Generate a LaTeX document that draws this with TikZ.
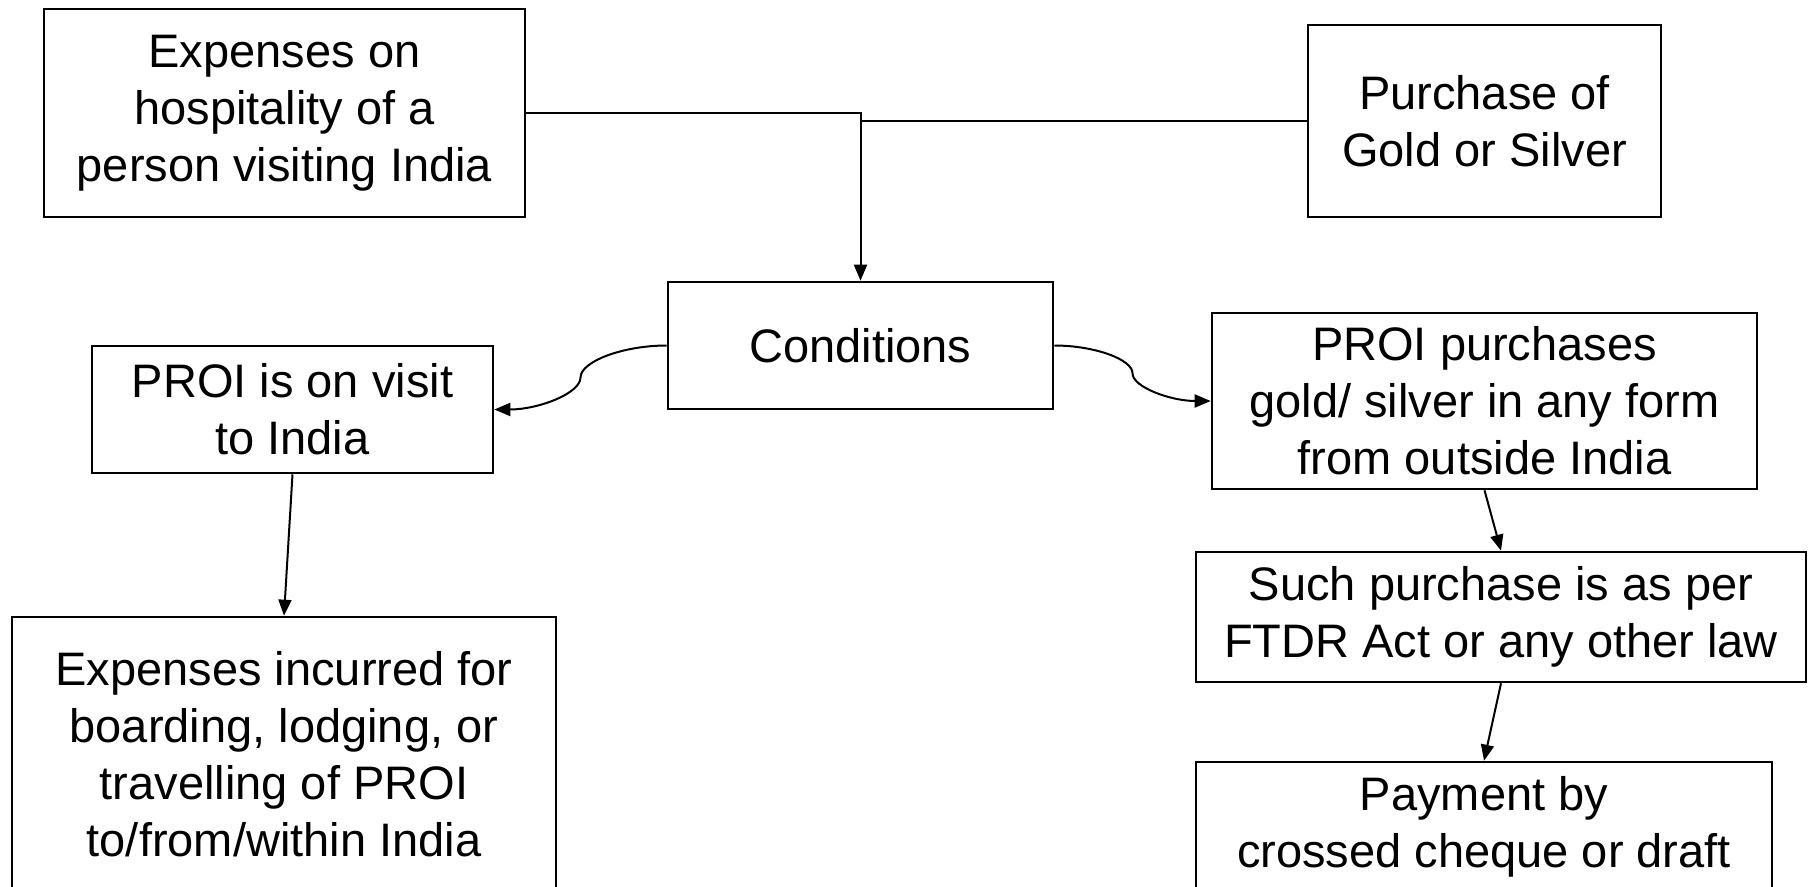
\documentclass[tikz,border=0pt]{standalone}
\usepackage{fontspec}
\setmainfont{Liberation Sans}
\usetikzlibrary{arrows.meta,calc}
\begin{document}
\begin{tikzpicture}[x=1pt,y=-1pt,
  box/.style={draw, line width=2.6pt, inner sep=0pt, align=center,
    font=\fontsize{47}{57}\selectfont},
  conn/.style={line width=2pt},
  arr/.style={conn, -{Triangle[length=16pt,width=13pt]}}]
\useasboundingbox (0,0) rectangle (1809,886);
\clip (0,0) rectangle (1809,886);

\node[box, minimum width=481pt, minimum height=208pt] (hosp) at (284.5,113)
  {Expenses on\\hospitality of a\\person visiting India};
\node[box, minimum width=353pt, minimum height=192pt] (gold) at (1484.5,121)
  {Purchase of\\Gold or Silver};
\node[box, minimum width=385pt, minimum height=127pt] (cond) at (860.5,345.5)
  {Conditions};
\node[box, minimum width=401pt, minimum height=127pt] (visit) at (292.5,409.5)
  {PROI is on visit\\to India};
\node[box, minimum width=544pt, minimum height=274pt] (incur) at (284,754)
  {Expenses incurred for\\boarding, lodging, or\\travelling of PROI\\to/from/within India};
\node[box, minimum width=545pt, minimum height=176pt] (purch) at (1484.5,401)
  {PROI purchases\\gold/ silver in any form\\from outside India};
\node[box, minimum width=610pt, minimum height=130pt] (such) at (1501,617)
  {Such purchase is as per\\FTDR Act or any other law};
\node[box, minimum width=576pt, minimum height=130pt] (pay) at (1484,827)
  {Payment by\\crossed cheque or draft};

\coordinate (lmid) at ($(cond.west)!0.5!(visit.east)$);
\coordinate (rmid) at ($(cond.east)!0.5!(purch.west)$);

\draw[arr] (hosp.east) -| (cond.north);
\draw[conn] (gold.west) -- (gold.west -| cond.north);
\draw[arr] (cond.west) .. controls +(-43.75,0) and +(0,-16) .. (lmid)
  .. controls +(0,16) and +(43.75,0) .. (visit.east);
\draw[arr] (cond.east) .. controls +(39.75,0) and +(0,-14) .. (rmid)
  .. controls +(0,14) and +(-39.75,0) .. (purch.west);
\draw[arr] (visit.south) -- (incur.north);
\draw[arr] (purch.south) -- (such.north);
\draw[arr] (such.south) -- (pay.north);
\end{tikzpicture}
\end{document}
